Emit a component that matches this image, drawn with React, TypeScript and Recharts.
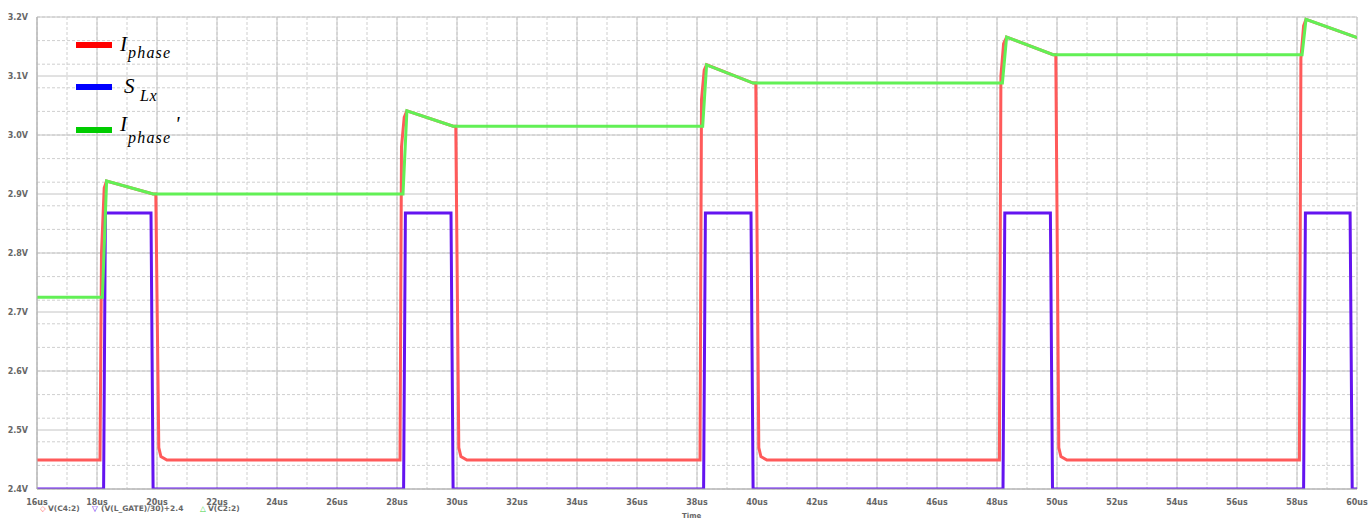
import React from 'react';
import { LineChart, Line, XAxis, YAxis, CartesianGrid } from 'recharts';

// time axis (us) and voltage axis (V)
const X_TICKS = [16, 18, 20, 22, 24, 26, 28, 30, 32, 34, 36, 38, 40, 42, 44, 46, 48, 50, 52, 54, 56, 58, 60];
const Y_TICKS = [2.4, 2.5, 2.6, 2.7, 2.8, 2.9, 3.0, 3.1, 3.2];

// V(C4:2) -> I_phase (red)
const iPhase: [number, number][] = [
  [16, 2.449], [18.1, 2.449], [18.15, 2.8], [18.24, 2.91], [18.32, 2.922], [19.87, 2.9], [19.96, 2.9],
  [20.06, 2.47], [20.13, 2.455], [20.33, 2.449],
  [28.1, 2.449], [28.15, 2.98], [28.24, 3.03], [28.33, 3.041], [29.87, 3.015], [29.96, 3.015],
  [30.06, 2.47], [30.13, 2.455], [30.33, 2.449],
  [38.1, 2.449], [38.15, 3.06], [38.24, 3.11], [38.32, 3.119], [39.87, 3.088], [39.96, 3.088],
  [40.06, 2.47], [40.13, 2.455], [40.33, 2.449],
  [48.08, 2.449], [48.13, 3.1], [48.22, 3.155], [48.32, 3.166], [49.87, 3.136], [49.96, 3.136],
  [50.06, 2.47], [50.13, 2.455], [50.33, 2.449],
  [58.08, 2.449], [58.13, 3.13], [58.22, 3.185], [58.3, 3.196], [60, 3.165],
];

// (V(L_GATE)/30)+2.4 -> S_Lx (purple)
const sLx: [number, number][] = [
  [16, 2.4], [18.22, 2.4], [18.28, 2.868], [19.8, 2.868], [19.87, 2.4],
  [28.22, 2.4], [28.28, 2.868], [29.8, 2.868], [29.87, 2.4],
  [38.22, 2.4], [38.28, 2.868], [39.8, 2.868], [39.87, 2.4],
  [48.2, 2.4], [48.26, 2.868], [49.78, 2.868], [49.85, 2.4],
  [58.22, 2.4], [58.28, 2.868], [59.77, 2.868], [59.84, 2.4], [60, 2.4],
];

// V(C2:2) -> I_phase' (green)
const iPhasePrime: [number, number][] = [
  [16, 2.725], [18.18, 2.725], [18.32, 2.922], [19.87, 2.9],
  [28.2, 2.9], [28.33, 3.041], [29.87, 3.015],
  [38.19, 3.015], [38.32, 3.119], [39.87, 3.088],
  [48.18, 3.088], [48.32, 3.166], [49.87, 3.136],
  [58.17, 3.136], [58.3, 3.196], [60, 3.165],
];

const toRows = (pts: [number, number][]) => pts.map(([t, v]) => ({ t, v }));

// minor grid: 0.5us and 0.02V
const minorX: number[] = [];
for (let i = 0; i <= 88; i++) minorX.push(16 + i * 0.5);
const minorY: number[] = [];
for (let i = 0; i <= 40; i++) minorY.push(+(2.4 + i * 0.02).toFixed(2));

const tickStyle = { fill: '#666', fontSize: 8, fontWeight: 'bold' as const, fontFamily: 'DejaVu Sans' };
const serif = '"Liberation Serif", "Times New Roman", serif';

function Txt({ x, y, size, children, spacing = 0 }: any) {
  return (
    <div style={{ position: 'absolute', left: x, top: y, fontFamily: serif, fontStyle: 'italic', fontSize: size, lineHeight: 1, letterSpacing: spacing, color: '#000', whiteSpace: 'nowrap' }}>
      {children}
    </div>
  );
}

function Small({ x, children, color = '#666' }: any) {
  return (
    <div style={{ position: 'absolute', left: x, top: 505, fontFamily: 'DejaVu Sans', fontSize: 7.5, fontWeight: 'bold', lineHeight: 1, color, whiteSpace: 'nowrap' }}>
      {children}
    </div>
  );
}

export default function App() {
  return (
    <div style={{ position: 'relative', width: 1368, height: 520, overflow: 'hidden', background: '#fff' }}>
      <style>{`body{margin:0}`}</style>
      <LineChart width={1368} height={520} margin={{ top: 17, right: 11, bottom: 0, left: 0 }}>
        <XAxis xAxisId="minor" type="number" dataKey="t" domain={[16, 60]} ticks={minorX} hide allowDataOverflow />
        <YAxis yAxisId="minor" type="number" domain={[2.4, 3.2]} ticks={minorY} hide allowDataOverflow />
        <CartesianGrid xAxisId="minor" yAxisId="minor" stroke="#cfcfcf" strokeDasharray="3 2" />
        <XAxis
          type="number"
          dataKey="t"
          domain={[16, 60]}
          ticks={X_TICKS}
          interval={0}
          height={31}
          allowDataOverflow
          tickFormatter={(t: number) => `${t}us`}
          tick={tickStyle}
          tickLine={false}
          stroke="#b0b0b0"
          tickMargin={4}
        />
        <YAxis
          type="number"
          domain={[2.4, 3.2]}
          ticks={Y_TICKS}
          interval={0}
          width={37}
          allowDataOverflow
          tickFormatter={(v: number) => `${v.toFixed(1)}V`}
          tick={tickStyle}
          tickLine={false}
          stroke="#b0b0b0"
          tickMargin={3}
        />
        <CartesianGrid stroke="#c4c4c4" />
        <Line data={toRows(iPhase)} dataKey="v" type="linear" stroke="#ff5a5a" strokeWidth={3} dot={false} isAnimationActive={false} />
        <Line data={toRows(sLx)} dataKey="v" type="linear" stroke="#6414f0" strokeWidth={3} dot={false} isAnimationActive={false} />
        <Line data={toRows(iPhasePrime)} dataKey="v" type="linear" stroke="#62f055" strokeWidth={3} dot={false} isAnimationActive={false} />
      </LineChart>

      {/* top-left legend */}
      <div style={{ position: 'absolute', left: 76, top: 42, width: 36, height: 6, background: '#ff0000' }} />
      <div style={{ position: 'absolute', left: 76, top: 84, width: 36, height: 6, background: '#0000ff' }} />
      <div style={{ position: 'absolute', left: 76, top: 127, width: 36, height: 6, background: '#00cc00' }} />
      <Txt x={120} y={34.4} size={21}>I</Txt>
      <Txt x={128} y={45} size={16} spacing={1.2}>phase</Txt>
      <Txt x={124} y={76.4} size={21}>S</Txt>
      <Txt x={140} y={88.3} size={16} spacing={0.5}>Lx</Txt>
      <Txt x={120} y={114} size={21}>I</Txt>
      <Txt x={128} y={130} size={16} spacing={1.2}>phase</Txt>
      <Txt x={175} y={114} size={21}>'</Txt>

      {/* bottom trace legend */}
      <Small x={40} color="#ff6a6a">◇</Small>
      <Small x={48}>V(C4:2)</Small>
      <Small x={92} color="#6414f0">▽</Small>
      <Small x={101}>(V(L_GATE)/30)+2.4</Small>
      <Small x={200} color="#40d040">△</Small>
      <Small x={208}>V(C2:2)</Small>
      <div style={{ position: 'absolute', left: 682, top: 513, fontFamily: 'DejaVu Sans', fontSize: 7, fontWeight: 'bold', lineHeight: 1, color: '#666' }}>Time</div>
    </div>
  );
}
